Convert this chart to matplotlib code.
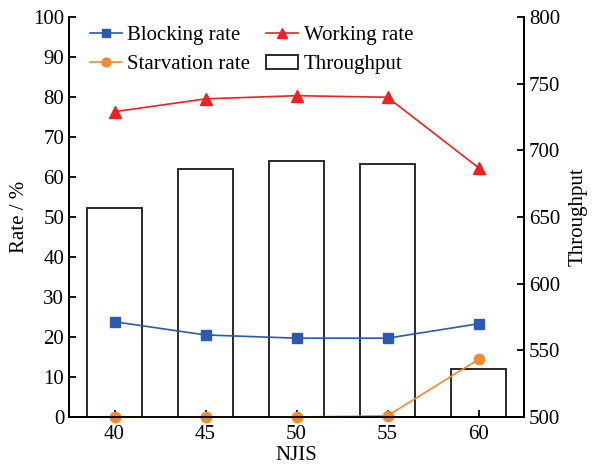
import matplotlib.pyplot as plt
import numpy as np

plt.rcParams['font.family'] = ['Liberation Serif', 'DejaVu Serif']
plt.rcParams['font.size'] = 15

njis = ['40', '45', '50', '55', '60']
blocking = [23.8, 20.5, 19.7, 19.7, 23.3]
starvation = [0.0, 0.0, 0.0, 0.3, 14.4]
working = [76.3, 79.5, 80.3, 79.9, 62.3]
throughput = [657, 686, 692, 689.5, 536]

x = np.arange(len(njis))

fig = plt.figure(figsize=(5.93, 4.68), dpi=100)
ax = fig.add_axes([0.1164, 0.109, 0.7673, 0.855])
ax2 = ax.twinx()

# bars behind the lines
bars = ax2.bar(x, throughput, width=0.6, bottom=0, facecolor='white',
               edgecolor='#2a2a2a', linewidth=1.4, label='Throughput')
ax2.set_ylim(500, 800)
ax2.set_yticks(range(500, 801, 50))
ax2.set_ylabel('Throughput', labelpad=6)

ax.set_zorder(ax2.get_zorder() + 1)
ax.patch.set_visible(False)

l1, = ax.plot(x, blocking, color='#2b5aae', marker='s', markersize=7,
              linewidth=1.2, label='Blocking rate', clip_on=False)
l2, = ax.plot(x, starvation, color='#f28a30', marker='o', markersize=7.5,
              linewidth=1.2, label='Starvation rate', clip_on=False)
l3, = ax.plot(x, working, color='#f02020', marker='^', markersize=8,
              linewidth=1.2, label='Working rate', clip_on=False)

ax.set_ylim(0, 100)
ax.set_yticks(range(0, 101, 10))
ax.set_xlim(-0.5, 4.5)
ax.set_xticks(x)
ax.set_xticklabels(njis)
ax.set_xlabel('NJIS', labelpad=1)
ax.set_ylabel('Rate / %', labelpad=3)

for a in (ax, ax2):
    a.spines['top'].set_visible(False)
    for s in a.spines.values():
        s.set_linewidth(1.3)
    a.tick_params(direction='in', length=5, width=1.3)
ax.tick_params(axis='x', pad=6)

ax.legend(handles=[l1, l2, l3, bars], ncol=2, frameon=False,
          loc='upper left', bbox_to_anchor=(0.046, 0.978),
          handlelength=1.55, columnspacing=0.75, handletextpad=0.25,
          labelspacing=0.45, borderaxespad=0.0, borderpad=0.0,
          markerscale=0.85)

fig.savefig('out.png', dpi=100)
